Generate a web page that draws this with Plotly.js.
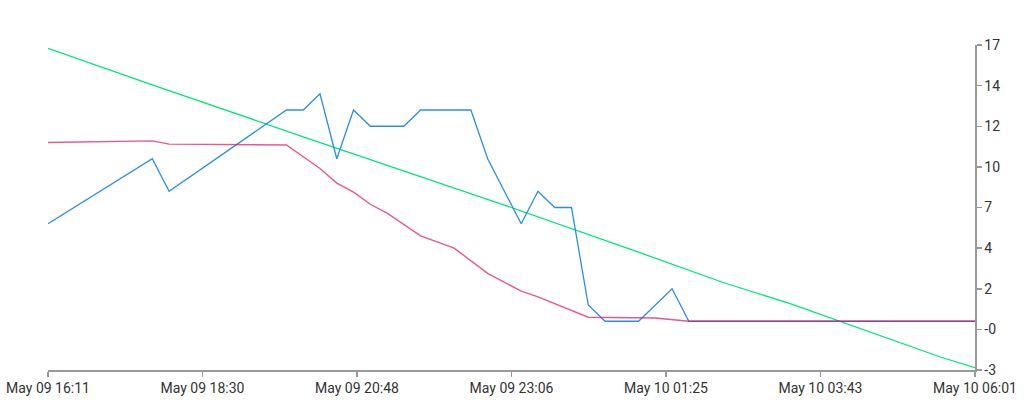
<!DOCTYPE html>
<html>
<head>
<meta charset="utf-8">
<script src="https://cdn.plot.ly/plotly-3.0.1.min.js"></script>
<style>html,body{margin:0;padding:0;background:#fff;}#chart{width:1024px;height:400px;}</style>
</head>
<body>
<div id="chart"></div>
<script>
// Series A (blue)
const blueTimes = ['2024-05-09 16:11:40','2024-05-09 17:45','2024-05-09 18:00','2024-05-09 19:45','2024-05-09 20:00','2024-05-09 20:15','2024-05-09 20:30','2024-05-09 20:45','2024-05-09 21:00','2024-05-09 21:30','2024-05-09 21:45','2024-05-09 22:30','2024-05-09 22:45','2024-05-09 23:15','2024-05-09 23:30','2024-05-09 23:45','2024-05-10 00:00','2024-05-10 00:15','2024-05-10 00:30','2024-05-10 01:00','2024-05-10 01:30','2024-05-10 01:45','2024-05-10 06:01'];
const blueValues = [6, 10, 8, 13, 13, 14, 10, 13, 12, 12, 13, 13, 10, 6, 8, 7, 7, 1, 0, 0, 2, 0, 0];

// Series B (pink)
const pinkTimes = ['2024-05-09 16:11:40','2024-05-09 17:45','2024-05-09 18:00','2024-05-09 19:45','2024-05-09 20:15','2024-05-09 20:30','2024-05-09 20:45','2024-05-09 21:00','2024-05-09 21:15','2024-05-09 21:45','2024-05-09 22:15','2024-05-09 22:30','2024-05-09 22:45','2024-05-09 23:15','2024-05-09 23:30','2024-05-10 00:15','2024-05-10 01:15','2024-05-10 01:45','2024-05-10 06:01'];
const pinkValues = [11.0, 11.1, 10.9, 10.85, 9.4, 8.5, 7.95, 7.2, 6.65, 5.25, 4.5, 3.75, 2.95, 1.85, 1.5, 0.25, 0.2, 0, 0];

// Series C (green)
const greenTimes = ['2024-05-09 16:11:40','2024-05-09 17:45','2024-05-09 20:00','2024-05-09 21:15','2024-05-09 23:00','2024-05-10 01:00','2024-05-10 02:15','2024-05-10 03:15','2024-05-10 05:30','2024-05-10 06:01'];
const greenValues = [16.8, 14.55, 11.35, 9.6, 7.15, 4.25, 2.4, 1.1, -2.2, -2.85];

// Axis ticks
const xStart = '2024-05-09 16:11:40';
const xEnd = '2024-05-10 06:01:00';
const xTickText = ['May 09 16:11','May 09 18:30','May 09 20:48','May 09 23:06','May 10 01:25','May 10 03:43','May 10 06:01'];
const yTickVals = [-3, -0.5, 2, 4.5, 7, 9.5, 12, 14.5, 17];
const yTickText = ['-3','-0','2','4','7','10','12','14','17'];

const t0 = new Date(xStart.replace(' ','T')).getTime();
const t1 = new Date(xEnd.replace(' ','T')).getTime();
const pad = n => String(n).padStart(2,'0');
const fmt = ms => { const d = new Date(ms); return d.getFullYear()+'-'+pad(d.getMonth()+1)+'-'+pad(d.getDate())+' '+pad(d.getHours())+':'+pad(d.getMinutes())+':'+pad(d.getSeconds()); };
const xTickVals = xTickText.map((_, i) => fmt(t0 + (t1 - t0) * i / (xTickText.length - 1)));

const traces = [
  {x: greenTimes, y: greenValues, type: 'scatter', mode: 'lines', line: {color: '#00e676', width: 1.3}, hoverinfo: 'skip'},
  {x: blueTimes, y: blueValues, type: 'scatter', mode: 'lines', line: {color: '#1e88e5', width: 1.3}, opacity: 0.95, hoverinfo: 'skip'},
  {x: pinkTimes, y: pinkValues, type: 'scatter', mode: 'lines', line: {color: '#e0156b', width: 1.4}, opacity: 0.72, hoverinfo: 'skip'}
];

const layout = {
  width: 1024, height: 400,
  margin: {l: 48, r: 49, t: 45, b: 30},
  paper_bgcolor: '#fff', plot_bgcolor: '#fff',
  showlegend: false,
  font: {family: 'Roboto, sans-serif', size: 14, color: '#333'},
  xaxis: {
    type: 'date', range: [xStart, xEnd],
    tickmode: 'array', tickvals: xTickVals, ticktext: xTickText,
    showgrid: false, zeroline: false,
    showline: true, linecolor: '#999', linewidth: 1.5,
    ticks: 'outside', ticklen: 5, tickcolor: '#999', tickwidth: 1.5,
    tickfont: {family: 'Roboto, sans-serif', size: 14, color: '#333'}
  },
  yaxis: {
    side: 'right', range: [-3, 17],
    tickmode: 'array', tickvals: yTickVals, ticktext: yTickText,
    showgrid: false, zeroline: false,
    showline: true, linecolor: '#999', linewidth: 1.5,
    ticks: 'outside', ticklen: 5, tickcolor: '#999', tickwidth: 1.5,
    tickfont: {family: 'Roboto, sans-serif', size: 14, color: '#333'}
  }
};

Plotly.newPlot('chart', traces, layout, {displayModeBar: false, staticPlot: true});
</script>
</body>
</html>
